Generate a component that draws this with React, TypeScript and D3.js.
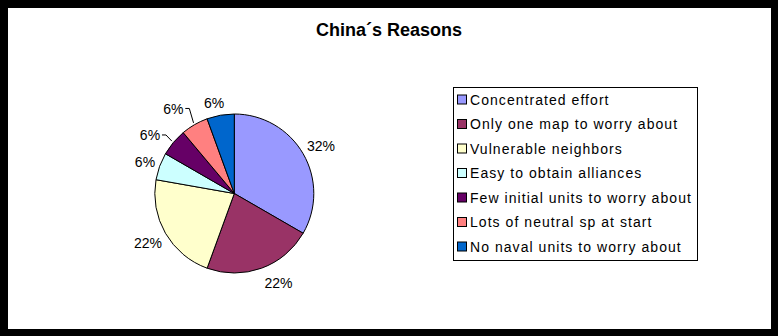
import React from "react";
import * as d3 from "d3";

const title = "China\u00b4s Reasons";
const categories = [
  "Concentrated effort",
  "Only one map to worry about",
  "Vulnerable neighbors",
  "Easy to obtain alliances",
  "Few initial units to worry about",
  "Lots of neutral sp at start",
  "No naval units to worry about",
];
const values = [6, 4, 4, 1, 1, 1, 1];
// percentage labels as printed on the chart (rounded to sum to 100%)
const percentLabels = ["32%", "22%", "22%", "6%", "6%", "6%", "6%"];
const colors = ["#9999FF", "#993366", "#FFFFCC", "#CCFFFF", "#660066", "#FF8080", "#0066CC"];

// layout (not data)
const W = 778;
const H = 336;
const cx = 234.3;
const cy = 193.5;
const R = 79.5;
const labelR = 99;
const labelNudge: [number, number][] = [
  [1, 2],
  [10.3, -4],
  [-0.6, -0.5],
  [3.7, 2.1],
  [-8.5, 5.1],
  [-11.5, 0.7],
  [-3.1, 7],
];
const leaderFor = [false, false, false, false, true, true, false];

export default function App() {
  const pie = d3.pie<number>().sort(null).value((d) => d);
  const arcs = pie(values);
  const arc = d3.arc<d3.PieArcDatum<number>>().innerRadius(0).outerRadius(R);
  const polar = (a: number, r: number): [number, number] => [cx + r * Math.sin(a), cy - r * Math.cos(a)];

  const legX = 453;
  const legY = 87;
  const legW = 244;
  const legH = 173;
  const rowY = d3.scaleLinear().domain([0, categories.length - 1]).range([legY + 12.5, legY + 159.5]);

  return (
    <svg
      width={W}
      height={H}
      style={{ position: "absolute", left: 0, top: 0 }}
      fontFamily="'Liberation Sans', Arial, sans-serif"
    >
      <rect x={0} y={0} width={W} height={H} fill="#000" />
      <rect x={8} y={8} width={763} height={321} fill="#fff" />
      <text x={389} y={36} textAnchor="middle" fontSize={18} fontWeight="bold" fill="#000">
        {title}
      </text>
      <g transform={`translate(${cx},${cy})`}>
        {arcs.map((a, i) => (
          <path key={i} d={arc(a) || ""} fill={colors[i]} stroke="#000" strokeWidth={1} />
        ))}
      </g>
      {arcs.map((a, i) => {
        const mid = (a.startAngle + a.endAngle) / 2;
        const [px, py] = polar(mid, labelR);
        const lx = px + labelNudge[i][0];
        const ly = py + labelNudge[i][1];
        const end = polar(mid, R + 2);
        return (
          <g key={i}>
            {leaderFor[i] && (
              <polyline
                points={`${lx + 12},${ly} ${lx + 16},${ly} ${end[0]},${end[1]}`}
                fill="none"
                stroke="#000"
                strokeWidth={1}
              />
            )}
            <text x={lx} y={ly} dy="0.36em" textAnchor="middle" fontSize={14} fill="#000">
              {percentLabels[i]}
            </text>
          </g>
        );
      })}
      <rect x={legX + 0.5} y={legY + 0.5} width={legW} height={legH} fill="#fff" stroke="#000" strokeWidth={1} />
      {categories.map((c, i) => (
        <g key={c}>
          <rect x={457.5} y={rowY(i) - 4.5} width={9} height={9} fill={colors[i]} stroke="#000" strokeWidth={1} />
          <text x={470} y={rowY(i)} dy="0.36em" fontSize={14} letterSpacing={1.05} fill="#000">
            {c}
          </text>
        </g>
      ))}
    </svg>
  );
}
